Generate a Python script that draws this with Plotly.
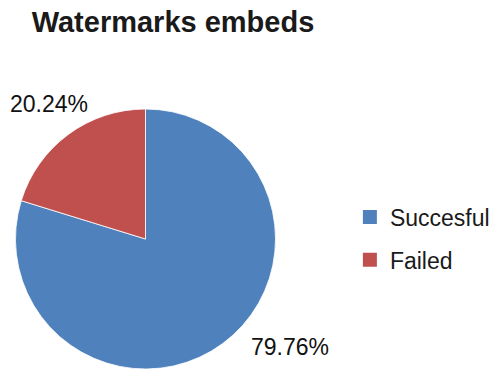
import plotly.graph_objects as go

labels = ["Succesful", "Failed"]
values = [79.76, 20.24]
colors = ["#4F81BD", "#C0504D"]
title_text = "Watermarks embeds"

W, H = 497, 369
FONT = "Liberation Sans, Arial, sans-serif"

fig = go.Figure()
fig.add_trace(go.Pie(
    labels=labels, values=values, sort=False, direction="clockwise", rotation=0,
    marker=dict(colors=colors, line=dict(color="white", width=0.8)),
    textinfo="none", showlegend=False, hoverinfo="label+percent",
    domain=dict(x=[15.5 / W, 275.5 / W], y=[0, 260 / H]),
))
# legend entries
for lab, col in zip(labels, colors):
    fig.add_trace(go.Scatter(
        x=[None], y=[None], mode="markers", name=lab, legendgroup=lab,
        marker=dict(symbol="square", size=14, color=col),
    ))

# percentage labels (text from the data, placed like the reference)
total = sum(values)
label_pos = {"Succesful": (289.7, 347), "Failed": (49.3, 103.5)}
for lab, v in zip(labels, values):
    px_, py_ = label_pos[lab]
    fig.add_annotation(
        text=f"{v / total * 100:.2f}%", xref="paper", yref="paper",
        x=px_ / W, y=1 - py_ / H, xanchor="center", yanchor="middle",
        showarrow=False, font=dict(family=FONT, size=23, color="#111111"),
    )

fig.update_layout(
    width=W, height=H,
    margin=dict(l=0, r=0, t=0, b=0, autoexpand=False),
    paper_bgcolor="white", plot_bgcolor="white",
    title=dict(text="<b>" + title_text + "</b>", x=173 / W, xanchor="center", xref="paper",
               y=1 - 22 / H, yanchor="middle",
               font=dict(family=FONT, size=29, color="#1a1a1a")),
    xaxis=dict(visible=False), yaxis=dict(visible=False),
    legend=dict(x=0.704, xanchor="left", y=(H - 238.5) / H, yanchor="middle",
                font=dict(family=FONT, size=23, color="#1a1a1a"),
                traceorder="grouped", tracegroupgap=10, bgcolor="rgba(0,0,0,0)"),
)
fig.write_html("out.html", config={"displayModeBar": False},
               post_script="document.body.style.margin='0';")
